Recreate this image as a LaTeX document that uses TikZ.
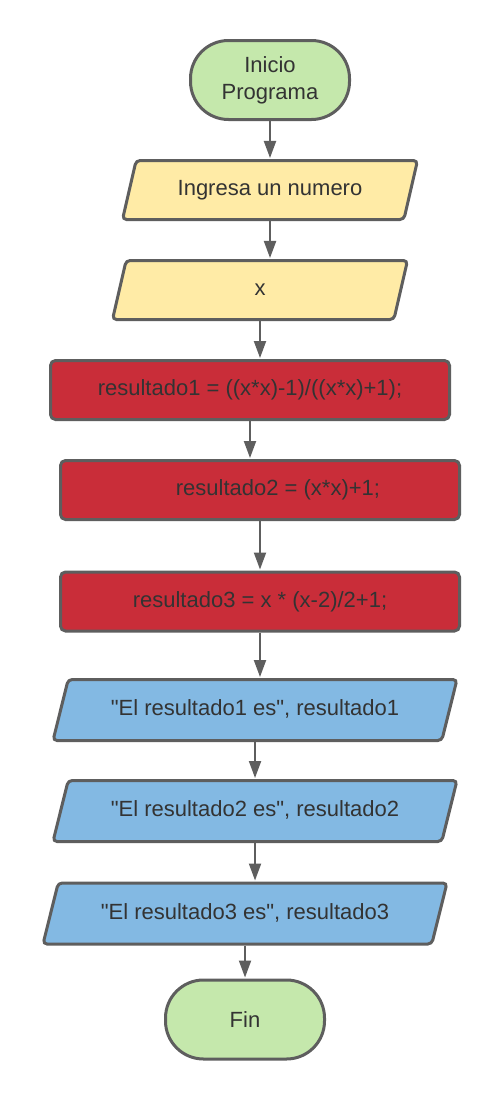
\documentclass[tikz,border=0pt]{standalone}
\usepackage{fontspec}
\setmainfont{Liberation Sans}[Ligatures=TeXOff]
\usetikzlibrary{shapes.geometric,arrows.meta}
\definecolor{termgreen}{HTML}{C5E8AC}
\definecolor{inyellow}{HTML}{FFEBA6}
\definecolor{procred}{HTML}{C92D39}
\definecolor{outblue}{HTML}{83B9E3}
\definecolor{edgegray}{HTML}{5E5E5E}
\definecolor{txtgray}{HTML}{333333}
\begin{document}
\begin{tikzpicture}[x=1pt,y=1pt,
    shapebase/.style={draw=edgegray,line width=3pt,text=txtgray,
        font=\fontsize{22}{27}\selectfont,align=center},
    terminal/.style={shapebase,fill=termgreen,rounded corners=38pt,
        minimum width=159pt,minimum height=79pt},
    inbox/.style={shapebase,fill=inyellow,trapezium,trapezium left angle=77,
        trapezium right angle=103,trapezium stretches body,
        text height=16pt,text depth=5pt,inner ysep=19pt,
        minimum width=295pt,minimum height=59pt,rounded corners=4pt},
    procbox/.style={shapebase,fill=procred,rounded corners=5pt,
        minimum width=399pt,minimum height=59pt},
    outbox/.style={shapebase,fill=outblue,trapezium,trapezium left angle=76,
        trapezium right angle=104,trapezium stretches body,
        text height=16pt,text depth=5pt,inner ysep=20pt,
        minimum width=404pt,minimum height=61pt,rounded corners=4pt},
    flow/.style={draw=edgegray,line width=2pt,-{Triangle[length=17pt,width=12pt]},
        shorten >=1pt}]
    \path[fill=white] (0,0) rectangle (500,-1100);
    \useasboundingbox (0,0) rectangle (500,-1100);
    \node[terminal] (inicio) at (270,-80) {Inicio\\Programa};
    \node[inbox] (ingresa) at (270,-190) {Ingresa un numero};
    \node[inbox] (leex) at (260,-290) {x};
    \node[procbox] (res1) at (250,-390) {resultado1 = ((x*x)-1)/((x*x)+1);};
    \node[procbox] (res2) at (260,-490) {\hspace*{36pt}resultado2 = (x*x)+1;};
    \node[procbox] (res3) at (260,-601.5) {resultado3 = x * (x-2)/2+1;};
    \node[outbox] (out1) at (255,-710) {"El resultado1 es", resultado1};
    \node[outbox] (out2) at (255,-811) {"El resultado2 es", resultado2};
    \node[outbox] (out3) at (245,-913.5) {"El resultado3 es", resultado3};
    \node[terminal] (fin) at (245,-1019.5) {Fin};
    \foreach \a/\b in {inicio/ingresa,ingresa/leex,leex/res1,res1/res2,res2/res3,
        res3/out1,out1/out2,out2/out3,out3/fin}
        \draw[flow] (\a.south) -- (\a.south |- \b.north);
\end{tikzpicture}
\end{document}
